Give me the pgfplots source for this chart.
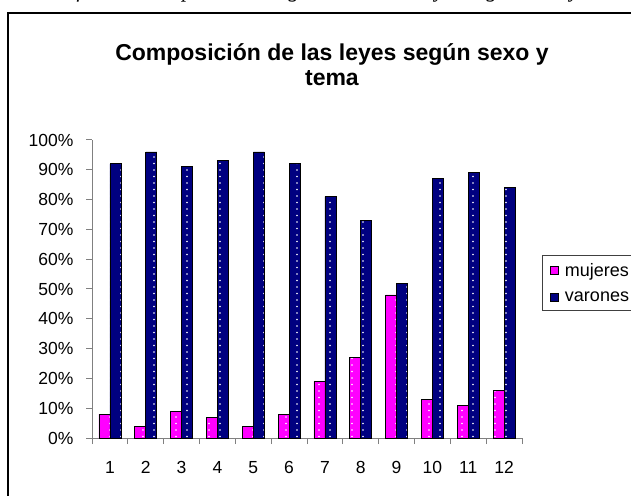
\documentclass[border=0pt]{standalone}
\usepackage{pgfplots}
\pgfplotsset{compat=1.18}
\usepackage{fontspec}
\setmainfont{Liberation Sans}
\newfontfamily\serifit{Liberation Serif}
\usetikzlibrary{patterns.meta}
\tikzdeclarepattern{name=sdots, type=uncolored,
  bounding box={(-5.5pt,-3.25pt) and (5.5pt,3.25pt)},
  tile size={(11pt,6.5pt)},
  code={\fill (0pt,0pt) circle (0.85pt);}}
\definecolor{mujcol}{HTML}{FF00FF}
\definecolor{varcol}{HTML}{000080}
\definecolor{axgray}{HTML}{808080}
\begin{document}
\begin{tikzpicture}[x=1pt,y=1pt]
\useasboundingbox (0,0) rectangle (631,495);
\fill[white] (0,0) rectangle (631,495);
\node[anchor=base east, font=\serifit\itshape\fontsize{22}{26}\selectfont, inner sep=0pt] at (628,497.5) {Gráfico 2: Composición en general de las leyes según sexo y tema};
\draw[line width=1.5pt] (8,482) rectangle (720,-40);
\begin{axis}[
  at={(92pt,57pt)}, anchor=south west, scale only axis,
  width=430pt, height=298pt,
  xmin=0.5, xmax=12.5, ymin=0, ymax=100,
  axis lines*=left,
  axis line style={axgray, line width=1pt},
  ybar=0pt, bar width=11pt,
  xtick={1,...,12},
  minor xtick={0.5,1.5,...,12.5},
  major x tick style={draw=none},
  ytick={0,10,...,100},
  yticklabel={\pgfmathprintnumber{\tick}\%},
  tick align=outside,
  major tick length=6pt, minor tick length=6pt,
  tick style={axgray, line width=1pt},
  /pgf/number format/assume math mode=true,
  tick label style={font=\fontsize{17.5}{21}\selectfont, black},
  yticklabel style={xshift=-9pt},
  xticklabel style={yshift=-14pt},
  title={Composición de las leyes según sexo y\\tema},
  title style={align=center, font=\bfseries\fontsize{23}{25}\selectfont,
    at={(0.558,1.303)}, anchor=north, inner sep=0pt},
  legend style={at={(1.046,0.615)}, anchor=north west, draw=black!75, line width=0.8pt,
    font=\fontsize{18}{21}\selectfont, row sep=10pt, inner ysep=6pt, inner xsep=8pt},
  legend cell align=left,
  legend image code/.code={\draw[#1, draw=black, line width=0.8pt] (0pt,-4pt) rectangle (8pt,4pt); \path (12pt,0pt);},
]
\addplot[fill=mujcol, draw=black, line width=0.8pt,
  postaction={pattern={sdots}, pattern color=white}]
  coordinates {(1,8) (2,4) (3,9) (4,7) (5,4) (6,8) (7,19) (8,27) (9,48) (10,13) (11,11) (12,16)};
\addlegendentry[text width=80pt]{mujeres}
\addplot[fill=varcol, draw=black, line width=0.8pt,
  postaction={pattern={sdots}, pattern color=white}]
  coordinates {(1,92) (2,96) (3,91) (4,93) (5,96) (6,92) (7,81) (8,73) (9,52) (10,87) (11,89) (12,84)};
\addlegendentry[text width=80pt]{varones}
\end{axis}
\end{tikzpicture}
\end{document}
